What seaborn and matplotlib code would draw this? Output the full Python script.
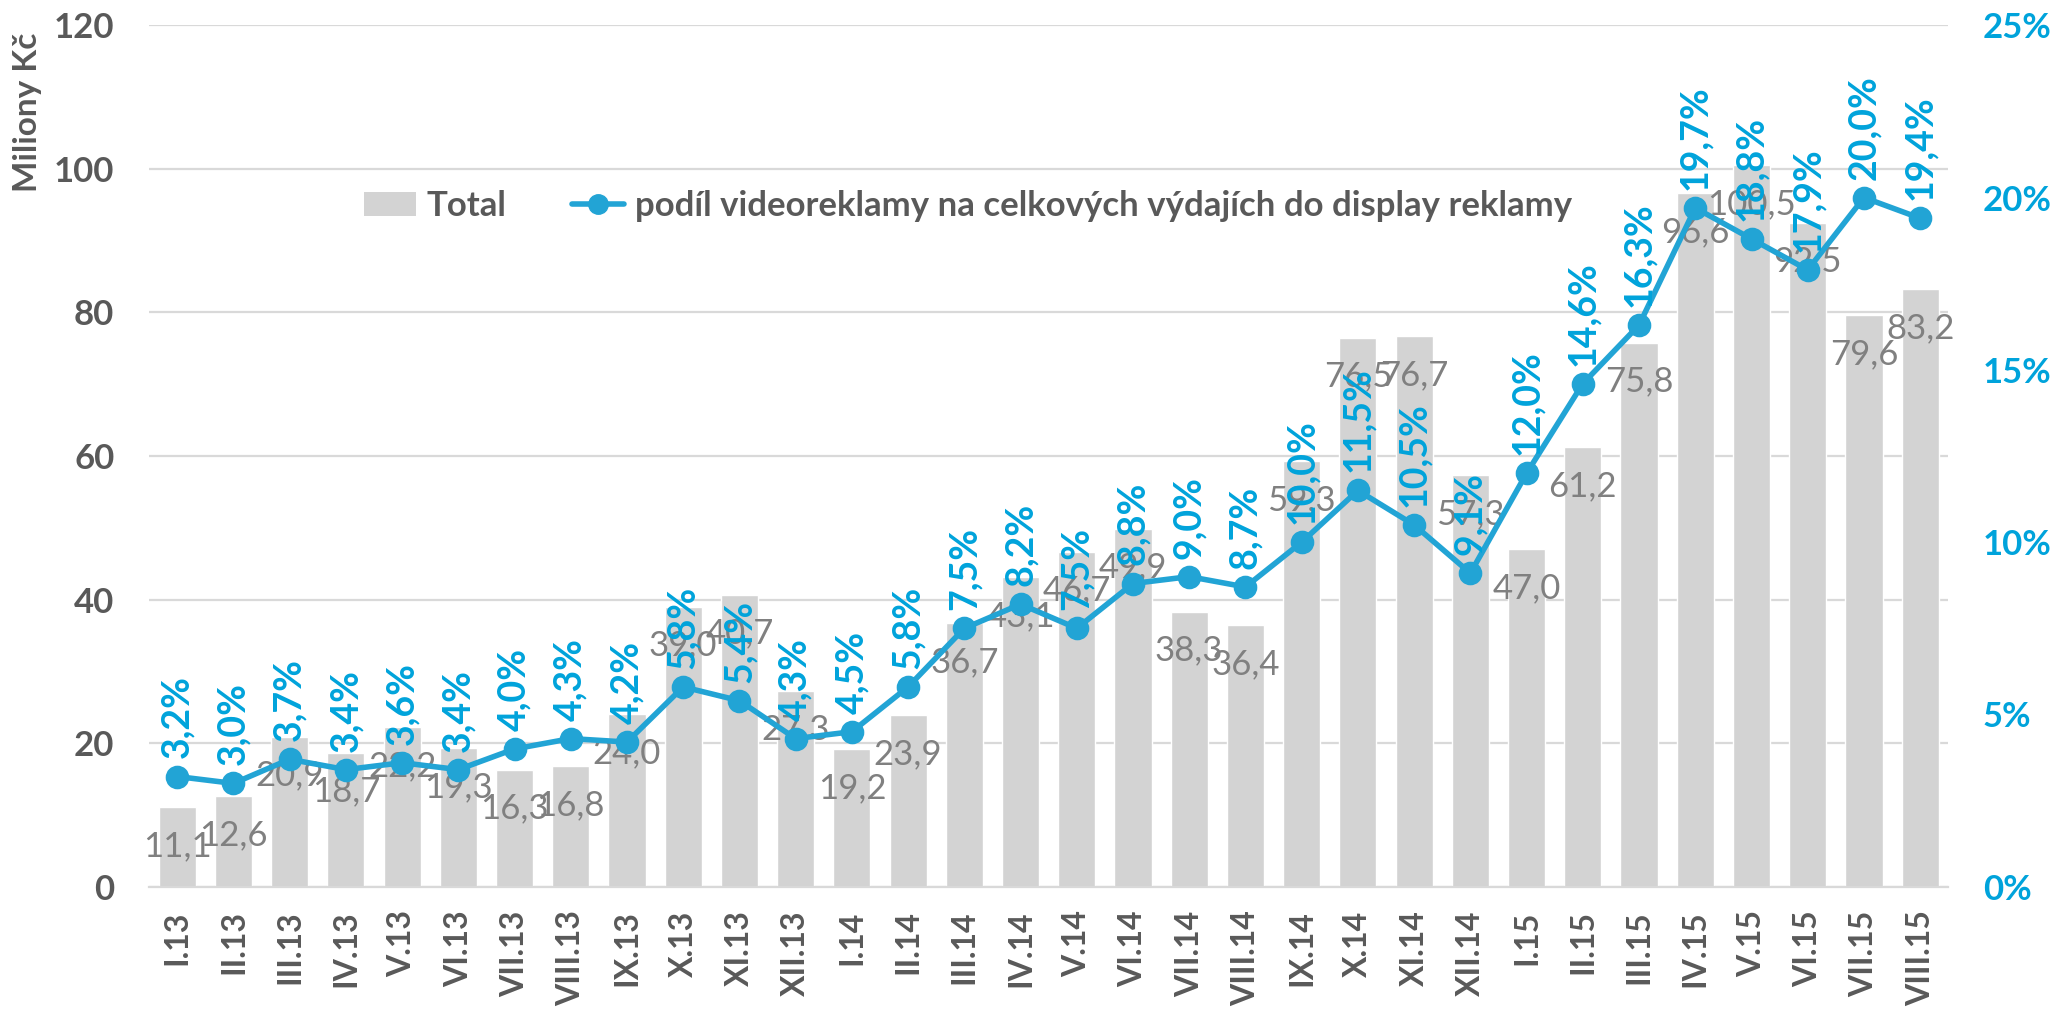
import matplotlib
matplotlib.use('Agg')
import matplotlib.pyplot as plt
import seaborn as sns
import pandas as pd
from matplotlib.patches import Patch
from matplotlib.lines import Line2D

# data
months = ['I.13', 'II.13', 'III.13', 'IV.13', 'V.13', 'VI.13', 'VII.13', 'VIII.13',
          'IX.13', 'X.13', 'XI.13', 'XII.13',
          'I.14', 'II.14', 'III.14', 'IV.14', 'V.14', 'VI.14', 'VII.14', 'VIII.14',
          'IX.14', 'X.14', 'XI.14', 'XII.14',
          'I.15', 'II.15', 'III.15', 'IV.15', 'V.15', 'VI.15', 'VII.15', 'VIII.15']
total = [11.1, 12.6, 20.9, 18.7, 22.2, 19.3, 16.3, 16.8, 24.0, 39.0, 40.7, 27.3,
         19.2, 23.9, 36.7, 43.1, 46.7, 49.9, 38.3, 36.4, 59.3, 76.5, 76.7, 57.3,
         47.0, 61.2, 75.8, 96.6, 100.5, 92.5, 79.6, 83.2]
share = [3.2, 3.0, 3.7, 3.4, 3.6, 3.4, 4.0, 4.3, 4.2, 5.8, 5.4, 4.3,
         4.5, 5.8, 7.5, 8.2, 7.5, 8.8, 9.0, 8.7, 10.0, 11.5, 10.5, 9.1,
         12.0, 14.6, 16.3, 19.7, 18.8, 17.9, 20.0, 19.4]
left_ticks = [0, 20, 40, 60, 80, 100, 120]
right_ticks = [0, 5, 10, 15, 20, 25]

bar_name = 'Total'
line_name = 'podíl videoreklamy na celkových výdajích do display reklamy'

df = pd.DataFrame({'month': months, 'total': total, 'share': share})

bar_color = '#D3D3D3'
line_color = '#22A4D5'
pct_color = '#00A3DB'
dark = '#595959'
val_color = '#808080'

sns.set_style('white')
plt.rcParams['font.family'] = ['Lato', 'DejaVu Sans']

fig, ax = plt.subplots(figsize=(20.53, 10.10), dpi=100)
fig.subplots_adjust(left=0.0726, right=0.949, top=0.975, bottom=0.122)

sns.barplot(data=df, x='month', y='total', ax=ax, color=bar_color,
            width=0.66, saturation=1, zorder=2)
ax.set_ylim(0, 120)
ax.set_yticks(left_ticks)
ax.yaxis.grid(True, color='#D9D9D9', linewidth=1.6, zorder=0)
ax.set_axisbelow(True)
for s in ['top', 'right', 'left']:
    ax.spines[s].set_visible(False)
ax.spines['bottom'].set_color('#D9D9D9')
ax.spines['bottom'].set_linewidth(1.6)
ax.tick_params(axis='both', length=0)
ax.tick_params(axis='y', pad=25, labelsize=25, labelcolor=dark)
ax.tick_params(axis='x', pad=17, labelsize=23, labelcolor=dark, rotation=90)
for lab in ax.get_xticklabels() + ax.get_yticklabels():
    lab.set_fontweight('bold')
ax.set_xlabel('')
ax.set_ylabel('Miliony Kč', fontsize=24, fontweight='bold', color=dark, loc='top')
ax.yaxis.set_label_coords(-0.0594, 0.991)

# bar value labels (inside end)
for i, v in enumerate(total):
    ax.annotate(f'{v:.1f}'.replace('.', ','), (i, v), xytext=(0, -28),
                textcoords='offset points', ha='center', va='center',
                fontsize=25, color=val_color, zorder=3)

ax2 = ax.twinx()
sns.pointplot(data=df, x='month', y='share', ax=ax2, color=line_color,
              markers='o', linewidth=4, markersize=14, errorbar=None)
ax2.set_ylim(0, 25)
ax2.set_yticks(right_ticks)
ax2.set_yticklabels([f'{t}%' for t in right_ticks])
ax2.set_xlim(-0.5, len(months) - 0.5)
ax2.set_ylabel('')
for s in ax2.spines.values():
    s.set_visible(False)
ax2.tick_params(axis='y', length=0, pad=25, labelsize=25, labelcolor=pct_color)
for lab in ax2.get_yticklabels():
    lab.set_fontweight('bold')

for i, p in enumerate(share):
    ax2.annotate(f'{p:.1f}%'.replace('.', ','), (i, p), xytext=(0, 13),
                 textcoords='offset points', ha='center', va='bottom',
                 rotation=90, fontsize=27, fontweight='bold', color=pct_color)

handles = [Patch(facecolor=bar_color, edgecolor='none'),
           Line2D([], [], color=line_color, linewidth=4, marker='o', markersize=14)]
ax2.legend(handles, [bar_name, line_name], loc='center', bbox_to_anchor=(0.455, 0.79),
           ncol=2, frameon=False, handlelength=1.5, columnspacing=1.9,
           handletextpad=0.3, prop={'size': 25, 'weight': 'bold'},
           labelcolor=dark)

fig.savefig('out.png', dpi=100)
